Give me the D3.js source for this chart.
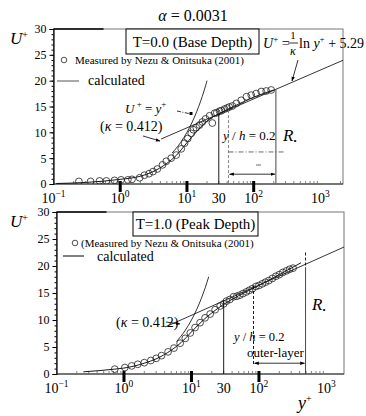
<!DOCTYPE html>
<html>
<head>
<meta charset="utf-8">
<script src="https://cdn.jsdelivr.net/npm/d3@7"></script>
<style>
  body { margin: 0; background: #fff; }
  svg { display: block; font-family: "Liberation Serif", "DejaVu Serif", serif; }
</style>
</head>
<body>
<div id="chart"></div>
<script>
// measured points, T=0.0 (base depth)
const baseYPlus = [0.24, 0.36, 0.49, 0.62, 0.82, 1.03, 1.3, 1.5, 1.95, 2.3, 2.7, 3.1, 3.6, 4.3, 4.9,
                   5.8, 6.9, 8.2, 9.2, 10.3, 11.6, 12.5, 13.8, 15.4, 17, 19, 21.8, 24, 26, 28,
                   30.8, 33, 36.6, 40, 43, 48, 55, 65, 78, 92, 109, 130, 154, 183];
const baseUPlus = [0.5, 0.5, 0.6, 0.6, 0.7, 0.8, 0.8, 0.9, 1.2, 1.7, 2.0, 2.4, 2.9, 3.7, 4.4,
                   5.0, 5.6, 6.8, 7.9, 8.8, 9.8, 10.5, 10.9, 11.4, 12.0, 12.6, 13.2, 11.8, 13.7, 13.8,
                   14.1, 14.2, 14.5, 14.7, 14.9, 15.1, 15.6, 16.2, 16.9, 17.2, 17.5, 17.9, 18.0, 18.2];
// calculated profile, base depth
const baseCalcY = [0.11, 0.3, 1, 2, 3, 5, 7, 10, 15, 20, 30, 50, 100, 200];
const baseCalcU = [0.1, 0.3, 0.9, 1.5, 2.3, 4.0, 5.6, 8.0, 10.6, 12.2, 13.6, 15.0, 16.8, 18.2];

// measured points, T=1.0 (peak depth)
const peakYPlus = [0.73, 1.03, 1.3, 1.6, 2.0, 2.5, 3.0, 3.6, 4.5, 5.5, 6.8, 8.1, 9.6, 11.3, 13.4,
                   15.9, 18.9, 22.4, 26.6, 30, 33, 37, 42, 47, 52, 58, 65, 72, 80, 90,
                   100, 112, 125, 140, 158, 178, 200, 225, 255, 285, 320];
const peakUPlus = [0.9, 1.2, 1.5, 1.8, 2.1, 2.5, 2.9, 3.4, 4.1, 4.8, 5.7, 6.6, 7.6, 8.6, 9.5,
                   10.4, 11.1, 11.9, 12.6, 13.0, 13.5, 13.8, 14.3, 14.4, 14.6, 14.9, 15.2, 15.5, 15.8, 16.2,
                   16.4, 16.7, 17.0, 17.3, 17.7, 18.1, 18.4, 18.8, 19.1, 19.4, 19.6];
// calculated profile, peak depth
const peakCalcY = [0.25, 0.73, 1, 2, 3, 5, 7, 10, 15, 20, 30, 50, 100, 200, 420];
const peakCalcU = [0.4, 0.9, 1.1, 2.0, 2.8, 4.4, 5.8, 7.8, 10.0, 11.3, 12.9, 14.5, 16.4, 18.4, 20.6];

// log law U+ = ln(y+)/0.412 + 5.29 (end points) and viscous law U+ = y+
const logLawY = [4.1, 2500];
const logLawU = [8.71, 24.28];
const viscY = [6, 8, 10, 12, 14, 16, 18, 20];
const viscU = [6, 8, 10, 12, 14, 16, 18, 20];

// y+ of the marked positions: y+ = 30, y/h = 0.2, R*
const baseMarks = [30, 42, 215];
const peakMarks = [30, 83, 490];

// ticks
const xTickVals = [0.1, 1, 10, 30, 100, 1000];
const xTickExp  = ["\u22121", "0", "1", "", "2", "3"];
const xMajor    = [1, 10, 100];
const yTickVals = [0, 5, 10, 15, 20, 25, 30];

const svg = d3.select("#chart")
    .append("svg")
    .attr("width", 366)
    .attr("height", 416)
    .attr("viewBox", "0 0 366 416");

const defs = svg.append("defs");
defs.append("marker")
    .attr("id", "arr")
    .attr("viewBox", "0 0 10 10")
    .attr("refX", 9).attr("refY", 5)
    .attr("markerWidth", 6).attr("markerHeight", 6)
    .attr("orient", "auto-start-reverse")
    .append("path")
    .attr("d", "M0,1.5 L10,5 L0,8.5 Z")
    .attr("fill", "#000");

// title
svg.append("text")
    .attr("x", 193).attr("y", 21)
    .attr("text-anchor", "middle")
    .style("font-size", "16px")
    .call(t => {
        t.append("tspan").style("font-style", "italic").text("\u03b1");
        t.append("tspan").text(" = 0.0031");
    });

function drawPanel(p) {
    const x = d3.scaleLog().domain([0.1, p.xMax]).range([p.left, p.right]);
    const y = d3.scaleLinear().domain([0, 30]).range([p.bottom, p.top]);
    const g = svg.append("g");

    defs.append("clipPath").attr("id", "clip-" + p.id)
        .append("rect")
        .attr("x", p.left).attr("y", p.top)
        .attr("width", p.right - p.left).attr("height", p.bottom - p.top);

    // frame
    g.append("rect")
        .attr("x", p.left).attr("y", p.top)
        .attr("width", p.right - p.left).attr("height", p.bottom - p.top)
        .attr("fill", "none")
        .attr("stroke", "#777")
        .attr("stroke-width", 1);
    g.append("line")
        .attr("x1", p.left).attr("x2", p.left + 50)
        .attr("y1", p.top).attr("y2", p.top)
        .attr("stroke", "#000").attr("stroke-width", 1.5);

    // y axis
    g.append("g")
        .attr("transform", `translate(${p.left},0)`)
        .call(d3.axisLeft(y).tickValues(d3.range(0, 31)).tickSize(2).tickFormat(""))
        .call(a => a.select(".domain").remove());
    g.append("g")
        .attr("transform", `translate(${p.left},0)`)
        .call(d3.axisLeft(y).tickValues(yTickVals).tickSize(4).tickPadding(3))
        .call(a => a.select(".domain").attr("stroke", "#000").attr("stroke-width", 1.2))
        .selectAll("text")
        .style("font-family", "Liberation Serif")
        .style("font-size", "12px")
        .style("fill", "#000");

    // x axis
    g.append("line")
        .attr("x1", p.left).attr("x2", p.right)
        .attr("y1", p.bottom).attr("y2", p.bottom)
        .attr("stroke", "#333").attr("stroke-width", 1.2);
    const minor = [];
    [0.1, 1, 10, 100, 1000].forEach(d => { for (let k = 2; k < 10; k++) if (d * k < p.xMax) minor.push(d * k); });
    g.selectAll(".mtick").data(minor).enter().append("line")
        .attr("x1", d => x(d)).attr("x2", d => x(d))
        .attr("y1", p.bottom).attr("y2", p.bottom - 3)
        .attr("stroke", "#666").attr("stroke-width", 0.8);
    g.selectAll(".major").data(xMajor).enter().append("rect")
        .attr("x", d => x(d) - 1.5)
        .attr("y", p.bottom - 3)
        .attr("width", 3)
        .attr("height", 11)
        .attr("fill", "#000");

    const lab = g.selectAll(".xlab").data(xTickVals).enter().append("text")
        .attr("x", d => x(d))
        .attr("y", p.bottom + 19)
        .attr("text-anchor", "middle")
        .style("font-size", "14px");
    lab.append("tspan").text((d, i) => xTickExp[i] === "" ? d : "10");
    lab.append("tspan")
        .attr("dy", -6)
        .style("font-size", "9.5px")
        .text((d, i) => xTickExp[i]);

    // U+ label
    svg.append("text")
        .attr("x", 10).attr("y", p.top + 15)
        .style("font-size", "17px")
        .call(t => {
            t.append("tspan").style("font-style", "italic").text("U");
            t.append("tspan").attr("dy", -6).style("font-size", "10px").text("+");
        });

    const plot = g.append("g").attr("clip-path", `url(#clip-${p.id})`);
    const line = d3.line()
        .x(d => x(d[0]))
        .y(d => y(d[1]))
        .curve(d3.curveMonotoneX);

    // calculated profile, log law and viscous law
    plot.append("path")
        .datum(d3.zip(p.calcY, p.calcU))
        .attr("d", line)
        .attr("fill", "none").attr("stroke", "#000").attr("stroke-width", 0.9);
    plot.append("path")
        .datum(d3.zip(logLawY, logLawU))
        .attr("d", d3.line().x(d => x(d[0])).y(d => y(d[1])))
        .attr("fill", "none").attr("stroke", "#000").attr("stroke-width", 0.8);
    plot.append("path")
        .datum(d3.zip(viscY, viscU).filter(d => d[0] <= p.viscMax))
        .attr("d", line)
        .attr("fill", "none").attr("stroke", "#000").attr("stroke-width", 0.8);

    // measured points
    plot.selectAll(".pt")
        .data(d3.zip(p.measY, p.measU))
        .enter()
        .append("circle")
        .attr("cx", d => x(d[0]))
        .attr("cy", d => y(d[1]))
        .attr("r", 3.4)
        .attr("fill", "none")
        .attr("stroke", "#222")
        .attr("stroke-width", 0.8);

    return { x, y, g };
}

// ---------- panel 1: base depth ----------
const top1 = drawPanel({
    id: "base", left: 53.5, right: 343, top: 29, bottom: 184, xMax: 2180,
    measY: baseYPlus, measU: baseUPlus, calcY: baseCalcY, calcU: baseCalcU, viscMax: 20
});
{
    const { x, y, g } = top1;
    const logU = v => logLawU[0] + (logLawU[1] - logLawU[0]) * Math.log(v / logLawY[0]) / Math.log(logLawY[1] / logLawY[0]);

    // vertical marks
    g.append("line")
        .attr("x1", x(baseMarks[0])).attr("x2", x(baseMarks[0]))
        .attr("y1", y(logU(baseMarks[0]))).attr("y2", y(0))
        .attr("stroke", "#000").attr("stroke-width", 0.9);
    g.append("line")
        .attr("x1", x(baseMarks[1])).attr("x2", x(baseMarks[1]))
        .attr("y1", y(14.3)).attr("y2", y(0))
        .attr("stroke", "#777").attr("stroke-width", 0.9)
        .attr("stroke-dasharray", "3,2");
    g.append("line")
        .attr("x1", x(baseMarks[2])).attr("x2", x(baseMarks[2]))
        .attr("y1", y(logU(baseMarks[2]))).attr("y2", y(0))
        .attr("stroke", "#666").attr("stroke-width", 1.2);

    // dash-dot line and arrow across the outer layer
    g.append("line")
        .attr("x1", x(baseMarks[1])).attr("x2", x(290))
        .attr("y1", y(6.2)).attr("y2", y(6.2))
        .attr("stroke", "#444").attr("stroke-width", 0.8)
        .attr("stroke-dasharray", "5,2,1,2");
    g.append("line")
        .attr("x1", 256).attr("x2", 261).attr("y1", 165).attr("y2", 165)
        .attr("stroke", "#444").attr("stroke-width", 0.8);
    g.append("line")
        .attr("x1", x(baseMarks[1]) + 1).attr("x2", x(baseMarks[2]) - 1)
        .attr("y1", y(1.9)).attr("y2", y(1.9))
        .attr("stroke", "#000").attr("stroke-width", 0.8)
        .attr("marker-start", "url(#arr)")
        .attr("marker-end", "url(#arr)");

    // title box
    g.append("rect")
        .attr("x", 126).attr("y", 29).attr("width", 133).attr("height", 25)
        .attr("fill", "#fff").attr("stroke", "#000").attr("stroke-width", 1);
    g.append("text").attr("x", 192.5).attr("y", 47).attr("text-anchor", "middle")
        .style("font-size", "15px").text("T=0.0 (Base Depth)");

    // legend
    g.append("circle").attr("cx", 64).attr("cy", 60).attr("r", 2.8)
        .attr("fill", "none").attr("stroke", "#222").attr("stroke-width", 0.8);
    g.append("text").attr("x", 75).attr("y", 64).style("font-size", "11px")
        .text("Measured by Nezu & Onitsuka (2001)");
    g.append("line").attr("x1", 57).attr("x2", 79).attr("y1", 81).attr("y2", 81)
        .attr("stroke", "#555").attr("stroke-width", 1);
    g.append("text").attr("x", 88).attr("y", 85).style("font-size", "14px").text("calculated");

    // log-law formula
    const f = g.append("g").style("font-size", "14px");
    f.append("text").attr("x", 263).attr("y", 48)
        .call(t => {
            t.append("tspan").style("font-style", "italic").text("U");
            t.append("tspan").attr("dy", -6).style("font-size", "9px").text("+");
            t.append("tspan").attr("dy", 6).text(" =");
        });
    f.append("text").attr("x", 293).attr("y", 39).attr("text-anchor", "middle")
        .style("font-size", "11px").text("1");
    f.append("line").attr("x1", 288).attr("x2", 298).attr("y1", 43).attr("y2", 43)
        .attr("stroke", "#000").attr("stroke-width", 0.8);
    f.append("text").attr("x", 293).attr("y", 55).attr("text-anchor", "middle")
        .style("font-size", "12px").style("font-style", "italic").text("\u03ba");
    f.append("text").attr("x", 299).attr("y", 48)
        .call(t => {
            t.append("tspan").text("ln ");
            t.append("tspan").style("font-style", "italic").text("y");
            t.append("tspan").attr("dy", -6).style("font-size", "9px").text("+");
            t.append("tspan").attr("dy", 6).text(" + 5.29");
        });
    g.append("line").attr("x1", 298).attr("y1", 60).attr("x2", 292).attr("y2", 81)
        .attr("stroke", "#000").attr("stroke-width", 0.8)
        .attr("marker-end", "url(#arr)");

    // viscous law label
    g.append("text").attr("x", 125).attr("y", 113).style("font-size", "13px")
        .call(t => {
            t.append("tspan").style("font-style", "italic").text("U");
            t.append("tspan").attr("dy", -6).style("font-size", "9px").text(" +");
            t.append("tspan").attr("dy", 6).text("  =  ");
            t.append("tspan").style("font-style", "italic").text("y");
            t.append("tspan").attr("dy", -6).style("font-size", "9px").text("+");
        });
    g.append("line").attr("x1", 177).attr("y1", 111).attr("x2", 191).attr("y2", 114)
        .attr("stroke", "#000").attr("stroke-width", 0.8).attr("stroke-dasharray", "4,1.5,1,1.5");
    g.append("rect").attr("x", 189.5).attr("y", 112).attr("width", 3).attr("height", 3).attr("fill", "#000");

    // kappa label
    g.append("text").attr("x", 100).attr("y", 131).style("font-size", "14px")
        .call(t => {
            t.append("tspan").text("(");
            t.append("tspan").style("font-style", "italic").text("\u03ba");
            t.append("tspan").text(" = 0.412)");
        });
    g.append("line").attr("x1", 143).attr("y1", 136)
        .attr("x2", x(logLawY[0]) - 1).attr("y2", y(logLawU[0]) + 2)
        .attr("stroke", "#000").attr("stroke-width", 0.8)
        .attr("marker-end", "url(#arr)");

    g.append("text").attr("x", 223).attr("y", 140).style("font-size", "13px")
        .call(t => {
            t.append("tspan").style("font-style", "italic").text("y");
            t.append("tspan").text(" / ");
            t.append("tspan").style("font-style", "italic").text("h");
            t.append("tspan").text(" = 0.2");
        });
    g.append("text").attr("x", 283).attr("y", 141).style("font-size", "17px")
        .call(t => {
            t.append("tspan").style("font-style", "italic").text("R");
            t.append("tspan").attr("dy", 3).style("font-size", "9px").text("\u2022");
        });
}

// ---------- panel 2: peak depth ----------
const top2 = drawPanel({
    id: "peak", left: 56.5, right: 344, top: 212, bottom: 374, xMax: 1820,
    measY: peakYPlus, measU: peakUPlus, calcY: peakCalcY, calcU: peakCalcU, viscMax: 19
});
{
    const { x, y, g } = top2;
    const logU = v => logLawU[0] + (logLawU[1] - logLawU[0]) * Math.log(v / logLawY[0]) / Math.log(logLawY[1] / logLawY[0]);

    g.append("line")
        .attr("x1", x(peakMarks[0])).attr("x2", x(peakMarks[0]))
        .attr("y1", y(logU(peakMarks[0]))).attr("y2", y(0))
        .attr("stroke", "#000").attr("stroke-width", 0.9);
    g.append("line")
        .attr("x1", x(peakMarks[1])).attr("x2", x(peakMarks[1]))
        .attr("y1", y(16.3)).attr("y2", y(1.5))
        .attr("stroke", "#000").attr("stroke-width", 0.9)
        .attr("stroke-dasharray", "3,2");
    g.append("line")
        .attr("x1", x(peakMarks[2])).attr("x2", x(peakMarks[2]))
        .attr("y1", y(22.5)).attr("y2", y(19.8))
        .attr("stroke", "#000").attr("stroke-width", 0.9)
        .attr("stroke-dasharray", "3,2");
    g.append("line")
        .attr("x1", x(peakMarks[2])).attr("x2", x(peakMarks[2]))
        .attr("y1", y(19.8)).attr("y2", y(0))
        .attr("stroke", "#333").attr("stroke-width", 0.9);

    g.append("line")
        .attr("x1", x(peakMarks[1]) + 1).attr("x2", x(peakMarks[2]) - 1)
        .attr("y1", y(2.0)).attr("y2", y(2.0))
        .attr("stroke", "#000").attr("stroke-width", 0.8)
        .attr("marker-start", "url(#arr)")
        .attr("marker-end", "url(#arr)");

    g.append("rect")
        .attr("x", 133).attr("y", 212).attr("width", 125).attr("height", 24)
        .attr("fill", "#fff").attr("stroke", "#000").attr("stroke-width", 1);
    g.append("text").attr("x", 195.5).attr("y", 229).attr("text-anchor", "middle")
        .style("font-size", "15px").text("T=1.0 (Peak Depth)");

    g.append("circle").attr("cx", 75).attr("cy", 243).attr("r", 2.8)
        .attr("fill", "none").attr("stroke", "#222").attr("stroke-width", 0.8);
    g.append("text").attr("x", 81).attr("y", 247).style("font-size", "11px")
        .text("(Measured by Nezu & Onitsuka (2001)");
    g.append("line").attr("x1", 63).attr("x2", 84).attr("y1", 256).attr("y2", 256)
        .attr("stroke", "#000").attr("stroke-width", 1);
    g.append("text").attr("x", 97).attr("y", 261).style("font-size", "14px").text("calculated");

    g.append("text").attr("x", 116).attr("y", 327).style("font-size", "14px")
        .call(t => {
            t.append("tspan").text("(");
            t.append("tspan").style("font-style", "italic").text("\u03ba");
            t.append("tspan").text(" = 0.412)");
        });
    g.append("line").attr("x1", 166).attr("y1", 322).attr("x2", 180).attr("y2", 324)
        .attr("stroke", "#000").attr("stroke-width", 0.8)
        .attr("marker-end", "url(#arr)");

    g.append("text").attr("x", 234).attr("y", 341).style("font-size", "12.5px")
        .call(t => {
            t.append("tspan").style("font-style", "italic").text("y");
            t.append("tspan").text(" / ");
            t.append("tspan").style("font-style", "italic").text("h");
            t.append("tspan").text(" = 0.2");
        });
    g.append("text").attr("x", 247).attr("y", 357).style("font-size", "13px").text("outer-layer");
    g.append("text").attr("x", 312).attr("y", 310).style("font-size", "17px")
        .call(t => {
            t.append("tspan").style("font-style", "italic").text("R");
            t.append("tspan").attr("dy", 3).style("font-size", "9px").text("\u2022");
        });

    // x axis title
    svg.append("text").attr("x", 298).attr("y", 409).style("font-size", "18px")
        .call(t => {
            t.append("tspan").style("font-style", "italic").text("y");
            t.append("tspan").attr("dy", -7).style("font-size", "10px").text("+");
        });
}
</script>
</body>
</html>
